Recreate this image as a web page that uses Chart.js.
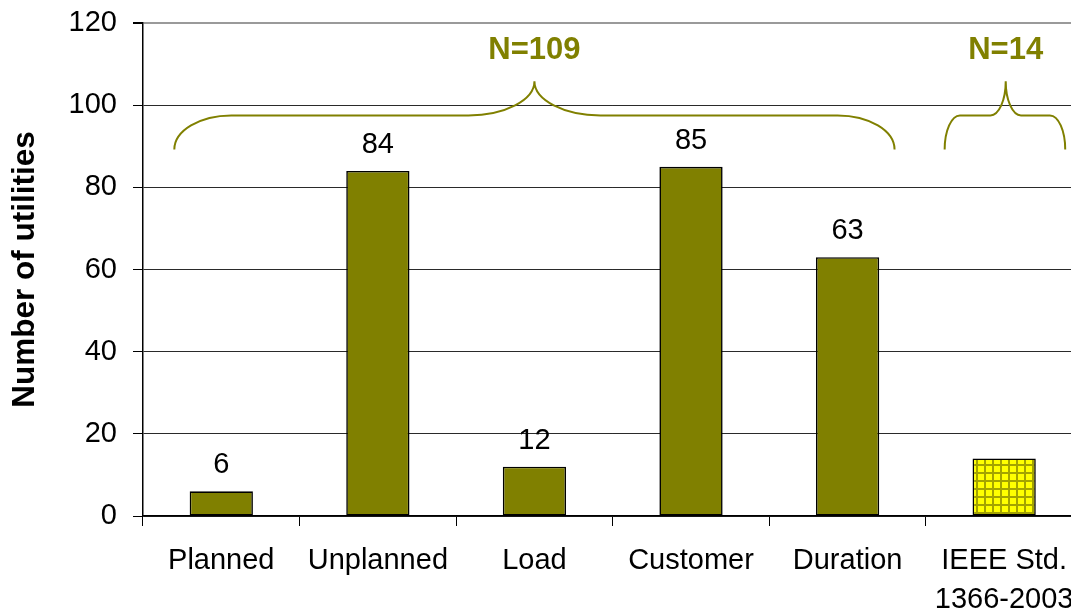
<!DOCTYPE html>
<html>
<head>
<meta charset="utf-8">
<script src="https://cdn.jsdelivr.net/npm/chart.js@4"></script>
<style>
  html, body { margin: 0; padding: 0; overflow: hidden; background: #fff; }
  #wrap { width: 1090px; height: 611px; }
</style>
</head>
<body>
<div id="wrap"><canvas id="chart" width="1090" height="611"></canvas></div>
<script>
// data
const categories = ['Planned', 'Unplanned', 'Load', 'Customer', 'Duration', ['IEEE Std.', '1366-2003']];
const utilities = [6, 84, 12, 85, 63, 14];
const showValue = [true, true, true, true, true, false];
const yTicks = [0, 20, 40, 60, 80, 100, 120];

// braces over the bars (category index units, y in axis units)
const braceLabels = ['N=109', 'N=14'];
const braceFrom = [-0.30, 4.62];
const braceTo = [4.30, 5.39];
const braceTip = [2.0, 5.01];

const OLIVE = '#808000';
const FONT = '"Liberation Sans", Arial, sans-serif';

// yellow grid fill for the IEEE bar
function gridPattern() {
    const c = document.createElement('canvas');
    c.width = 8; c.height = 8;
    const g = c.getContext('2d');
    g.fillStyle = '#a3a300';
    g.fillRect(0, 0, 8, 8);
    g.fillStyle = '#ffff00';
    g.fillRect(2, 2, 6, 6);
    return g.createPattern(c, 'repeat');
}

const canvas = document.getElementById('chart');
const ctx = canvas.getContext('2d');
const fills = utilities.map((_, i) => i === 5 ? gridPattern() : OLIVE);

const valueLabels = {
    id: 'valueLabels',
    afterDatasetsDraw(chart) {
        const c = chart.ctx;
        const meta = chart.getDatasetMeta(0);
        c.save();
        c.font = '29px ' + FONT;
        c.fillStyle = '#000';
        c.textAlign = 'center';
        c.textBaseline = 'alphabetic';
        meta.data.forEach((bar, i) => {
            if (!showValue[i]) return;
            c.fillText(String(utilities[i]), bar.x, bar.y - 18);
        });
        c.restore();
    }
};

const braces = {
    id: 'braces',
    afterDraw(chart) {
        const c = chart.ctx;
        const x = chart.scales.x, y = chart.scales.y;
        const step = x.getPixelForValue(1) - x.getPixelForValue(0);
        const px = v => x.getPixelForValue(0) + v * step;
        const yEnd = y.getPixelForValue(89.2);
        const yH = y.getPixelForValue(97.5);
        const yTip = y.getPixelForValue(105.8);
        const ry = yEnd - yH;
        c.save();
        c.strokeStyle = OLIVE;
        c.lineWidth = 2;
        braceLabels.forEach((lab, i) => {
            const x0 = px(braceFrom[i]), x1 = px(braceTo[i]), xt = px(braceTip[i]);
            const endR = Math.min(57, (xt - x0) * 0.25);
            const midR = Math.min(66, (xt - x0) * 0.25);
            c.beginPath();
            c.ellipse(x0 + endR, yEnd, endR, ry, 0, Math.PI, 1.5 * Math.PI);
            c.lineTo(xt - midR, yH);
            c.ellipse(xt - midR, yTip, midR, ry, 0, 0.5 * Math.PI, 0, true);
            c.ellipse(xt + midR, yTip, midR, ry, 0, Math.PI, 0.5 * Math.PI, true);
            c.lineTo(x1 - endR, yH);
            c.ellipse(x1 - endR, yEnd, endR, ry, 0, 1.5 * Math.PI, 2 * Math.PI);
            c.stroke();

            c.font = 'bold 31px ' + FONT;
            c.fillStyle = OLIVE;
            c.textAlign = 'center';
            c.textBaseline = 'alphabetic';
            c.fillText(lab, xt, y.getPixelForValue(111.2));
        });
        c.restore();
    }
};

new Chart(ctx, {
    type: 'bar',
    data: {
        labels: categories,
        datasets: [{
            data: utilities,
            backgroundColor: fills,
            borderColor: '#000',
            borderWidth: 1.6,
            borderSkipped: false,
            categoryPercentage: 1,
            barPercentage: 0.404
        }]
    },
    options: {
        responsive: false,
        maintainAspectRatio: false,
        animation: false,
        layout: { padding: { top: 23, right: 6, left: 0, bottom: 0 } },
        plugins: {
            legend: { display: false },
            tooltip: { enabled: false }
        },
        scales: {
            x: {
                offset: true,
                afterFit: s => { s.height = 95; },
                grid: {
                    offset: true,
                    drawOnChartArea: false,
                    tickLength: 10,
                    tickColor: '#000',
                    tickWidth: 1
                },
                border: { color: '#000', width: 1.5 },
                ticks: {
                    color: '#000',
                    padding: 16,
                    maxRotation: 0,
                    autoSkip: false,
                    font: { family: FONT, size: 29, lineHeight: 1.33 }
                }
            },
            y: {
                min: 0,
                max: 120,
                afterFit: s => { s.width = 143; s.paddingTop = 0; s.paddingBottom = 0; },
                afterBuildTicks: s => { s.ticks = yTicks.map(v => ({ value: v })); },
                grid: {
                    color: c => c.tick && c.tick.value === 120 ? '#9a9a9a' : '#2a2a2a',
                    lineWidth: c => c.tick && c.tick.value === 120 ? 2 : 1,
                    tickLength: 10,
                    tickColor: '#000'
                },
                border: { color: '#000', width: 1.5 },
                ticks: {
                    color: '#000',
                    padding: 16,
                    font: { family: FONT, size: 29 }
                },
                title: {
                    display: true,
                    text: 'Number of utilities',
                    color: '#000',
                    padding: { top: 6, bottom: 0 },
                    font: { family: FONT, size: 31.5, weight: 'bold' }
                }
            }
        }
    },
    plugins: [valueLabels, braces]
});
</script>
</body>
</html>
